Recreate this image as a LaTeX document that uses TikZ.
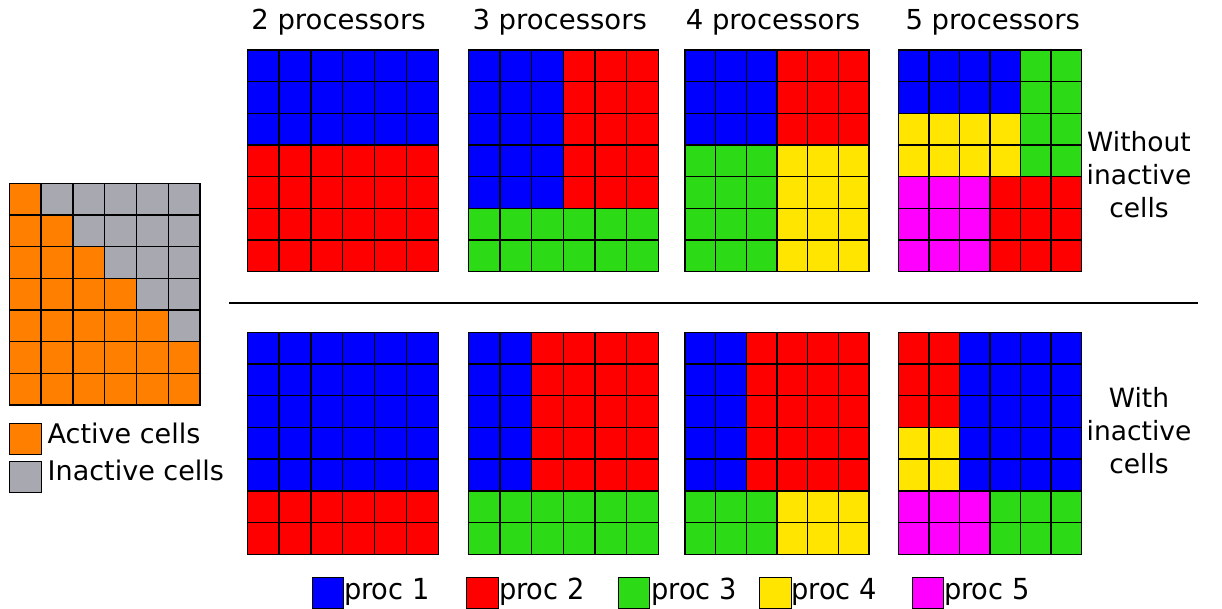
\documentclass[tikz,border=0pt]{standalone}
\usepackage{fontspec}
\setmainfont{DejaVu Sans}
\usepackage{graphicx}

% processor and cell-state colours
\definecolor{cB}{HTML}{0000FF}
\definecolor{cR}{HTML}{FF0000}
\definecolor{cG}{HTML}{2CDA16}
\definecolor{cY}{HTML}{FFE500}
\definecolor{cM}{HTML}{FF00FF}
\definecolor{cO}{HTML}{FF7F00}
\definecolor{cI}{HTML}{A8A8B0}

\tikzset{
  cellline/.style={draw=black, line width=1.4pt, line cap=rect},
  swatch/.style={draw=black, line width=0.9pt, anchor=north west, inner sep=0pt,
                 minimum width=31.5pt, minimum height=31pt},
  title/.style={anchor=base, inner sep=0pt, font=\fontsize{27.5}{33}\selectfont},
  sidelabel/.style={align=center, inner sep=0pt, font=\fontsize{26.5}{33}\selectfont},
  keytext/.style={anchor=base west, inner sep=0pt, font=\fontsize{27}{33}\selectfont},
  proctext/.style={anchor=base west, inner sep=0pt, font=\fontsize{29}{33}\selectfont},
}

% #1,#2: top-left corner, #3,#4: cell width/height, #5: rows of colour letters
\newcommand\cellgrid[5]{%
  \foreach \rowspec [count=\r from 0] in {#5} {%
    \foreach \col [count=\c from 0] in \rowspec {%
      \fill[c\col] (#1+\c*#3, #2+\r*#4) rectangle ++(#3,#4);
    }%
  }%
  \foreach \k in {0,...,6} {\draw[cellline] (#1+\k*#3, #2) -- ++(0, 7*#4);}%
  \foreach \k in {0,...,7} {\draw[cellline] (#1, #2+\k*#4) -- ++(6*#3, 0);}%
}

\begin{document}
\begin{tikzpicture}[x=1pt, y=-1pt]
\useasboundingbox (0,0) rectangle (1222,609);

% active / inactive cell layout
\cellgrid{9.3}{183.3}{31.8}{31.67}{%
  {O,I,I,I,I,I},{O,O,I,I,I,I},{O,O,O,I,I,I},{O,O,O,O,I,I},%
  {O,O,O,O,O,I},{O,O,O,O,O,O},{O,O,O,O,O,O}}

\node[swatch, fill=cO] (keyact) at (9.3,423.3) {};
\node[swatch, fill=cI] (keyina) at (9.3,461) {};
\node[keytext] (keyacttxt) at (47.5,443.3) {Active cells};
\node[keytext] (keyinatxt) at (47.5,480.7) {Inactive cells};

% column titles
\node[title] (t2) at (338.5,29.5) {2 processors};
\node[title] (t3) at (559.7,29.5) {3 processors};
\node[title] (t4) at (773,29.5) {4 processors};
\node[title] (t5) at (992.7,29.5) {5 processors};

% partitions without inactive cells
\cellgrid{247.3}{50}{31.83}{31.67}{%
  {B,B,B,B,B,B},{B,B,B,B,B,B},{B,B,B,B,B,B},{R,R,R,R,R,R},%
  {R,R,R,R,R,R},{R,R,R,R,R,R},{R,R,R,R,R,R}}
\cellgrid{468.3}{50}{31.67}{31.67}{%
  {B,B,B,R,R,R},{B,B,B,R,R,R},{B,B,B,R,R,R},{B,B,B,R,R,R},%
  {B,B,B,R,R,R},{G,G,G,G,G,G},{G,G,G,G,G,G}}
\cellgrid{685}{50}{30.67}{31.67}{%
  {B,B,B,R,R,R},{B,B,B,R,R,R},{B,B,B,R,R,R},{G,G,G,Y,Y,Y},%
  {G,G,G,Y,Y,Y},{G,G,G,Y,Y,Y},{G,G,G,Y,Y,Y}}
\cellgrid{898.3}{50}{30.56}{31.67}{%
  {B,B,B,B,G,G},{B,B,B,B,G,G},{Y,Y,Y,Y,G,G},{Y,Y,Y,Y,G,G},%
  {M,M,M,R,R,R},{M,M,M,R,R,R},{M,M,M,R,R,R}}

\node[sidelabel] (lblwithout) at (1139,174.5) {Without\\inactive\\cells};

% separator
\coordinate (sepL) at (229.3,303);
\coordinate (sepR) at (1198.3,303);
\draw[line width=2.2pt] (sepL) -- (sepR);

% partitions with inactive cells
\cellgrid{247.3}{332.3}{31.83}{31.7}{%
  {B,B,B,B,B,B},{B,B,B,B,B,B},{B,B,B,B,B,B},{B,B,B,B,B,B},%
  {B,B,B,B,B,B},{R,R,R,R,R,R},{R,R,R,R,R,R}}
\cellgrid{468.3}{332.3}{31.67}{31.7}{%
  {B,B,R,R,R,R},{B,B,R,R,R,R},{B,B,R,R,R,R},{B,B,R,R,R,R},%
  {B,B,R,R,R,R},{G,G,G,G,G,G},{G,G,G,G,G,G}}
\cellgrid{685}{332.3}{30.67}{31.7}{%
  {B,B,R,R,R,R},{B,B,R,R,R,R},{B,B,R,R,R,R},{B,B,R,R,R,R},%
  {B,B,R,R,R,R},{G,G,G,Y,Y,Y},{G,G,G,Y,Y,Y}}
\cellgrid{898.3}{332.3}{30.56}{31.7}{%
  {R,R,B,B,B,B},{R,R,B,B,B,B},{R,R,B,B,B,B},{Y,Y,B,B,B,B},%
  {Y,Y,B,B,B,B},{M,M,M,G,G,G},{M,M,M,G,G,G}}

\node[sidelabel] (lblwith) at (1139,430.5) {With\\inactive\\cells};

% processor legend
\node[swatch, fill=cB] (sw1) at (311.7,577) {};
\node[swatch, fill=cR] (sw2) at (466,577) {};
\node[swatch, fill=cG] (sw3) at (617.7,577) {};
\node[swatch, fill=cY] (sw4) at (759.3,577) {};
\node[swatch, fill=cM] (sw5) at (911.7,577) {};
\node[proctext] (pt1) at (343.8,599.3) {\scalebox{0.94}[1]{proc 1}};
\node[proctext] (pt2) at (498.8,599.3) {\scalebox{0.94}[1]{proc 2}};
\node[proctext] (pt3) at (651,599.3) {\scalebox{0.94}[1]{proc 3}};
\node[proctext] (pt4) at (791,599.3) {\scalebox{0.94}[1]{proc 4}};
\node[proctext] (pt5) at (943.8,599.3) {\scalebox{0.94}[1]{proc 5}};
\end{tikzpicture}
\end{document}
